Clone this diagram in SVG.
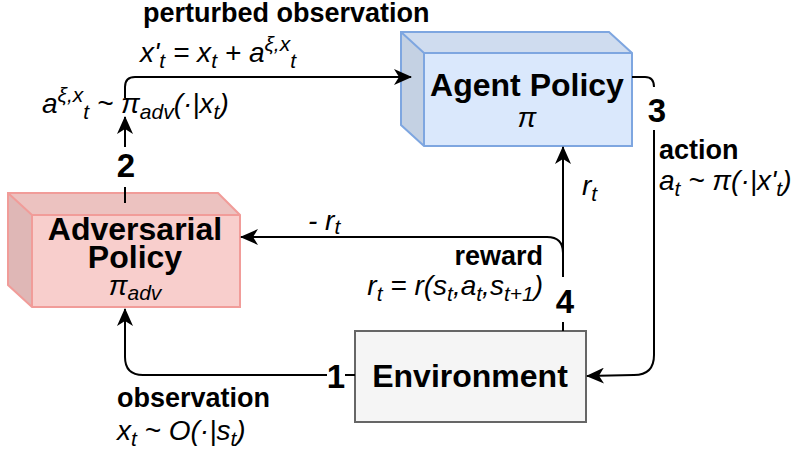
<svg xmlns="http://www.w3.org/2000/svg" width="792" height="459" viewBox="0 0 792 459">
<style>
.lbl{font-family:"Liberation Sans",Arial,sans-serif;font-weight:bold;font-size:27px;fill:#000}
.num{font-family:"Liberation Sans",Arial,sans-serif;font-weight:bold;font-size:33px;fill:#000}
.ttl{font-family:"Liberation Sans",Arial,sans-serif;font-weight:bold;font-size:32px;fill:#000}
.m{font-family:"Liberation Sans",Arial,sans-serif;font-style:italic;font-size:28px;fill:#000}
.s{font-size:21px}
.e{fill:none;stroke:#000;stroke-width:2}
</style>
<defs>
<marker id="arr" viewBox="0 0 18 16" refX="17" refY="8" markerWidth="18" markerHeight="16" markerUnits="userSpaceOnUse" orient="auto">
<path d="M0,0 L18,8 L0,16 L5,8 Z" fill="#000"/>
</marker>
</defs>
<rect width="792" height="459" fill="#fff"/>

<g id="agent">
<rect x="424" y="53" width="208" height="93" fill="#dae8fc"/>
<polygon points="401,32 609,32 632,53 424,53" fill="#cfdcef"/>
<polygon points="401,32 424,53 424,146 401,125" fill="#c4d1e3"/>
<polygon points="401,32 609,32 632,53 632,146 424,146 401,125" fill="none" stroke="#7ea6e0" stroke-width="2"/>
<polyline points="401,32 424,53 632,53" fill="none" stroke="#7ea6e0" stroke-width="2"/>
<line x1="424" y1="53" x2="424" y2="146" stroke="#7ea6e0" stroke-width="2"/>
<text class="ttl" x="527" y="96" text-anchor="middle">Agent Policy</text>
<text class="m" x="527" y="127" text-anchor="middle">π</text>
</g>

<g id="adversary">
<rect x="32" y="215" width="208" height="92" fill="#f8cecc"/>
<polygon points="8,193 218,193 240,215 32,215" fill="#ecc2c0"/>
<polygon points="8,193 32,215 32,307 8,285" fill="#dfb7b6"/>
<polygon points="8,193 218,193 240,215 240,307 32,307 8,285" fill="none" stroke="#f19c99" stroke-width="2"/>
<polyline points="8,193 32,215 240,215" fill="none" stroke="#f19c99" stroke-width="2"/>
<line x1="32" y1="215" x2="32" y2="307" stroke="#f19c99" stroke-width="2"/>
<text class="ttl" x="135" y="240" text-anchor="middle">Adversarial</text>
<text class="ttl" x="135" y="268" text-anchor="middle">Policy</text>
<text class="m" x="135" y="295" text-anchor="middle">π<tspan class="s" dy="5">adv</tspan></text>
</g>

<g id="environment">
<rect x="355" y="331" width="231" height="91" fill="#f5f5f5" stroke="#666" stroke-width="2"/>
<text class="ttl" x="470" y="387" text-anchor="middle">Environment</text>
</g>

<g id="connectors">
<path class="e" d="M355,375 L345,375"/>
<path class="e" d="M327,375 L143,375 Q125,375 125,357 L125,309" marker-end="url(#arr)"/>
<text class="num" x="336" y="388" text-anchor="middle">1</text>
<path class="e" d="M125,203 L125,187"/>
<text class="num" x="126" y="177" text-anchor="middle">2</text>
<path class="e" d="M125,147 L125,117" marker-end="url(#arr)"/>
<path class="e" d="M125,98 L125,87 Q125,77 135,77 L411,77" marker-end="url(#arr)"/>
<path class="e" d="M632,77 L645,77 Q654,77 654,87"/>
<text class="num" x="657" y="122" text-anchor="middle">3</text>
<path class="e" d="M654,130 L654,355 Q654,375 634,375 L587,376" marker-end="url(#arr)"/>
<path class="e" d="M563,331 L563,322"/>
<text class="num" x="565" y="313" text-anchor="middle">4</text>
<path class="e" d="M563,277 L563,147" marker-end="url(#arr)"/>
<path class="e" d="M563,277 L563,253 Q563,237 547,237 L241,237" marker-end="url(#arr)"/>
</g>

<g id="labels">
<text class="lbl" x="143" y="22">perturbed observation</text>
<text class="m" x="140" y="62">x'<tspan class="s" dy="6">t</tspan><tspan dy="-6"> = x</tspan><tspan class="s" dy="6">t</tspan><tspan dy="-6"> + a</tspan><tspan class="s" dy="-11">ξ,x</tspan><tspan class="s" dy="17">t</tspan></text>
<text class="m" x="42" y="113">a<tspan class="s" dy="-11">ξ,x</tspan><tspan class="s" dy="17">t</tspan><tspan dy="-6"> ~ π</tspan><tspan class="s" dy="6">adv</tspan><tspan dy="-6">(·|x</tspan><tspan class="s" dy="6">t</tspan><tspan dy="-6">)</tspan></text>
<text class="lbl" x="659" y="159">action</text>
<text class="m" x="659" y="190">a<tspan class="s" dy="6">t</tspan><tspan dy="-6"> ~ π(·|x'</tspan><tspan class="s" dy="6">t</tspan><tspan dy="-6">)</tspan></text>
<text class="m" x="582" y="195">r<tspan class="s" dy="6">t</tspan></text>
<text class="m" x="308" y="230">- r<tspan class="s" dy="4">t</tspan></text>
<text class="lbl" x="543" y="265" text-anchor="end">reward</text>
<text class="m" x="543" y="295" text-anchor="end">r<tspan class="s" dy="6">t</tspan><tspan dy="-6"> = r(s</tspan><tspan class="s" dy="6">t</tspan><tspan dy="-6">,a</tspan><tspan class="s" dy="6">t</tspan><tspan dy="-6">,s</tspan><tspan class="s" dy="6">t+1</tspan><tspan dy="-6">)</tspan></text>
<text class="lbl" x="117" y="407">observation</text>
<text class="m" x="117" y="440">x<tspan class="s" dy="6">t</tspan><tspan dy="-6"> ~ O(·|s</tspan><tspan class="s" dy="6">t</tspan><tspan dy="-6">)</tspan></text>
</g>
</svg>
